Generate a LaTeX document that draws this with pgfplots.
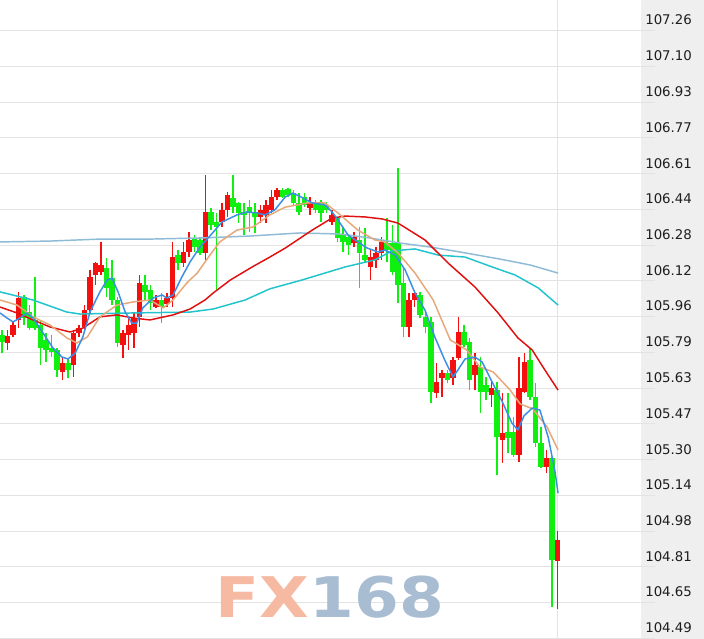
\documentclass[border=0pt]{standalone}
\usepackage{pgfplots}
\pgfplotsset{compat=1.18}
\usepackage{pgfplotstable}
\usepackage{fontspec}
\setmainfont{DejaVu Sans}
\definecolor{cred}{HTML}{F51010}
\definecolor{cgreen}{HTML}{10F010}
\definecolor{gridc}{HTML}{E3E3E3}
\definecolor{panel}{HTML}{EFEFEF}
\definecolor{labc}{HTML}{1E1E1E}
\definecolor{maA}{HTML}{3A8EE6}
\definecolor{maB}{HTML}{E6A878}
\definecolor{maC}{HTML}{E01010}
\definecolor{maD}{HTML}{20C4CC}
\definecolor{maE}{HTML}{8EBCD6}
\definecolor{wmfx}{HTML}{F6B9A2}
\definecolor{wmnum}{HTML}{A8BDD2}

\pgfplotstableread{
x o h l c
1 105.835 105.894 105.803 105.867
2 105.871 105.931 105.862 105.917
3 105.940 106.068 105.903 106.040
11 105.703 105.766 105.666 105.744
13 105.735 105.894 105.680 105.881
14 105.881 105.917 105.862 105.903
15 105.908 106.008 105.894 105.985
16 105.985 106.168 105.972 106.136
17 106.145 106.205 106.100 106.200
18 106.159 106.296 106.145 106.191
22 105.826 105.894 105.766 105.881
23 105.871 105.949 105.803 105.917
24 105.881 105.972 105.812 105.949
25 105.954 106.145 105.908 106.109
28 105.999 106.054 105.995 106.031
30 106.013 106.063 105.999 106.040
31 106.040 106.296 105.999 106.227
33 106.200 106.296 106.182 106.250
34 106.250 106.341 106.227 106.305
37 106.246 106.601 106.214 106.433
40 106.387 106.474 106.364 106.442
41 106.442 106.524 106.410 106.510
47 106.410 106.465 106.382 106.442
48 106.419 106.487 106.382 106.465
49 106.442 106.533 106.428 106.501
50 106.501 106.542 106.487 106.533
56 106.451 106.501 106.419 106.474
60 106.387 106.442 106.373 106.419
64 106.291 106.341 106.273 106.319
67 106.182 106.259 106.122 106.227
68 106.214 106.273 106.177 106.246
69 106.246 106.319 106.214 106.296
74 105.908 106.063 105.862 106.031
75 106.031 106.077 105.999 106.063
79 105.607 105.744 105.584 105.657
80 105.675 105.712 105.589 105.698
82 105.675 105.771 105.643 105.757
83 105.766 105.954 105.757 105.885
86 105.689 105.789 105.620 105.735
89 105.598 105.666 105.543 105.630
91 105.392 105.607 105.287 105.424
94 105.324 105.771 105.292 105.630
95 105.611 105.789 105.607 105.748
99 105.269 105.347 105.242 105.310
101 104.840 104.977 104.621 104.936
}\uptab

\pgfplotstableread{
x o h l c
0 105.871 105.894 105.789 105.839
4 106.045 106.054 105.917 105.949
5 105.976 106.008 105.894 105.903
6 105.940 106.136 105.894 105.903
7 105.917 105.940 105.735 105.812
8 105.849 105.881 105.748 105.803
9 105.812 105.871 105.771 105.794
10 105.803 105.812 105.680 105.712
12 105.744 105.766 105.675 105.712
19 106.177 106.223 106.045 106.086
20 106.131 106.214 106.008 106.031
21 106.031 106.045 105.817 105.835
26 106.100 106.145 106.031 106.068
27 106.077 106.100 105.985 106.017
29 106.031 106.063 105.926 105.999
32 106.236 106.259 106.168 106.200
35 106.314 106.328 106.250 106.273
36 106.305 106.319 106.236 106.246
38 106.433 106.451 106.350 106.373
39 106.387 106.428 106.077 106.364
42 106.497 106.601 106.428 106.455
43 106.474 106.478 106.382 106.428
44 106.433 106.474 106.328 106.419
45 106.455 106.487 106.341 106.428
46 106.433 106.474 106.337 106.410
51 106.533 106.542 106.497 106.501
52 106.538 106.542 106.501 106.510
53 106.519 106.533 106.465 106.474
54 106.474 106.519 106.419 106.433
55 106.501 106.519 106.455 106.465
57 106.474 106.487 106.428 106.442
58 106.474 106.487 106.387 106.428
59 106.465 106.478 106.428 106.442
61 106.405 106.410 106.296 106.314
62 106.328 106.364 106.250 106.296
63 106.319 106.328 106.236 106.282
65 106.305 106.364 106.086 106.246
66 106.236 106.360 106.205 106.214
70 106.291 106.405 106.205 106.259
71 106.291 106.373 106.145 106.159
72 106.291 106.633 106.017 106.100
73 106.109 106.182 105.862 105.908
76 106.054 106.068 105.949 105.963
77 105.954 105.985 105.881 105.908
78 105.931 105.954 105.561 105.611
81 105.698 105.712 105.652 105.666
84 105.885 105.917 105.817 105.826
85 105.839 105.858 105.620 105.666
87 105.725 105.771 105.515 105.611
88 105.643 105.680 105.575 105.611
90 105.620 105.657 105.233 105.406
92 105.429 105.607 105.333 105.401
93 105.429 105.497 105.315 105.324
96 105.757 105.812 105.575 105.589
97 105.589 105.652 105.360 105.379
98 105.379 105.452 105.265 105.269
100 105.310 105.315 104.630 104.845
}\dntab

\begin{document}
\begin{tikzpicture}
\useasboundingbox (0,0) rectangle (528pt,479.25pt);
\fill[white] (0,0) rectangle (528pt,479.25pt);
\fill[panel] (480.75pt,0) rectangle (528pt,479.25pt);
\begin{axis}[
  at={(0,0)}, anchor=south west,
  scale only axis, width=491.25pt, height=479.25pt,
  xmin=-0.3636, xmax=118.727, ymin=104.4842, ymax=107.400,
  axis line style={draw=none}, tick style={draw=none},
  xtick={101}, xticklabels={},
  ytick={107.260,107.097,106.934,106.771,106.607,106.444,106.281,106.118,105.955,105.792,105.629,105.466,105.302,105.139,104.976,104.813,104.650,104.487},
  yticklabels={107.26,107.10,106.93,106.77,106.61,106.44,106.28,106.12,105.96,105.79,105.63,105.47,105.30,105.14,104.98,104.81,104.65,104.49},
  yticklabel pos=right,
  yticklabel style={anchor=west, inner sep=0pt, xshift=-7.5pt, yshift=7.9pt, text=labc, font=\fontsize{10}{12}\selectfont},
  xmajorgrids, ymajorgrids,
  grid style={gridc, line width=0.75pt},
]
% wicks
\addplot[draw=none, forget plot, error bars/.cd, y dir=plus, y explicit, error mark=none,
  error bar style={draw=cred, line width=0.8pt}]
  table[x=x, y=l, y error plus expr=\thisrow{h}-\thisrow{l}] {\uptab};
\addplot[draw=none, forget plot, error bars/.cd, y dir=plus, y explicit, error mark=none,
  error bar style={draw=cgreen, line width=0.8pt}]
  table[x=x, y=l, y error plus expr=\thisrow{h}-\thisrow{l}] {\dntab};
% bodies
\addplot[draw=none, forget plot, error bars/.cd, y dir=plus, y explicit, error mark=none,
  error bar style={draw=cred, line width=3.9pt}]
  table[x=x, y=o, y error plus expr=\thisrow{c}-\thisrow{o}] {\uptab};
\addplot[draw=none, forget plot, error bars/.cd, y dir=plus, y explicit, error mark=none,
  error bar style={draw=cgreen, line width=3.9pt}]
  table[x=x, y=c, y error plus expr=\thisrow{o}-\thisrow{c}] {\dntab};
% moving averages
\addplot[maE, line width=1.1pt, line join=round] coordinates {(-0.36,106.296) (8.73,106.300) (17.8,106.309) (26.9,106.309) (36.0,106.314) (45.1,106.323) (54.2,106.337) (61.5,106.332) (66.9,106.314) (72.4,106.291) (77.8,106.273) (83.3,106.250) (90.5,106.218) (96.0,106.191) (101.1,106.154)};
\addplot[maD, line width=1.1pt, line join=round] coordinates {(-0.36,106.068) (5.64,106.031) (11.8,105.976) (14.2,105.967) (23.8,105.972) (34.2,105.976) (38.4,105.990) (44.2,106.031) (48.7,106.082) (54.5,106.122) (62.4,106.182) (67.8,106.214) (70.9,106.255) (75.1,106.264) (79.3,106.236) (84.2,106.227) (89.1,106.182) (93.3,106.145) (97.5,106.086) (101.1,106.008)};
\addplot[maC, line width=1.1pt, line join=round] coordinates {(-0.36,105.999) (2.73,105.972) (5.64,105.940) (8.73,105.908) (12.4,105.885) (14.7,105.903) (17.8,105.954) (20.9,105.963) (23.8,105.949) (26.9,105.940) (31.1,105.963) (34.2,105.990) (36.9,106.031) (38.4,106.063) (41.5,106.122) (45.5,106.182) (48.7,106.227) (51.5,106.268) (56.4,106.350) (60.0,106.405) (62.4,106.414) (66.0,106.410) (69.1,106.401) (72.0,106.382) (76.9,106.305) (81.1,106.200) (86.0,106.090) (90.2,105.972) (93.8,105.858) (96.4,105.803) (98.7,105.712) (101.1,105.620)};
\addplot[maB, line width=1.1pt, line join=round] coordinates {(-0.36,106.031) (2.73,106.008) (5.64,105.954) (8.73,105.917) (11.8,105.858) (13.6,105.835) (15.5,105.862) (17.8,105.954) (20.9,106.008) (23.8,106.022) (26.9,106.031) (29.3,105.995) (31.1,106.031) (33.6,106.109) (35.5,106.154) (37.8,106.236) (39.6,106.296) (42.7,106.350) (45.6,106.364) (48.7,106.419) (51.5,106.455) (55.6,106.474) (58.7,106.474) (61.1,106.428) (64.7,106.350) (67.8,106.305) (69.6,106.296) (72.0,106.246) (75.1,106.154) (78.4,106.031) (81.5,105.849) (84.5,105.803) (86.9,105.725) (89.3,105.703) (92.4,105.620) (94.2,105.557) (96.5,105.534) (99.1,105.452) (101.1,105.347)};
\addplot[maA, line width=1.1pt, line join=round] coordinates {(-0.36,105.972) (0.91,105.949) (2.0,105.931) (3.27,105.949) (4.55,105.972) (5.64,105.949) (7.45,105.881) (9.27,105.812) (10.9,105.771) (12.0,105.762) (13.3,105.789) (14.7,105.862) (16.0,105.976) (17.8,106.068) (19.1,106.122) (20.0,106.131) (21.1,106.068) (22.4,105.976) (23.6,105.926) (24.5,105.926) (25.6,105.995) (27.5,106.040) (29.1,106.054) (30.0,106.040) (31.1,106.054) (32.7,106.136) (34.2,106.205) (36.0,106.273) (37.8,106.323) (40.0,106.387) (42.7,106.419) (44.5,106.433) (46.4,106.428) (47.8,106.419) (49.6,106.442) (51.5,106.501) (52.9,106.519) (54.7,106.497) (56.4,106.474) (58.7,106.465) (60.0,106.433) (61.1,106.396) (62.9,106.328) (64.7,106.296) (66.4,106.268) (68.4,106.250) (69.6,106.259) (71.5,106.236) (73.3,106.168) (75.1,106.063) (76.9,105.985) (78.7,105.862) (80.5,105.757) (82.0,105.680) (82.9,105.712) (84.2,105.762) (86.0,105.771) (87.3,105.748) (89.1,105.657) (90.9,105.570) (92.7,105.470) (93.8,105.438) (94.9,105.502) (96.4,105.538) (97.8,105.529) (99.3,105.406) (100.5,105.255) (101.1,105.150)};
\end{axis}
\node[font=\bfseries\fontsize{42}{42}\selectfont, xscale=1.15, inner sep=0pt] at (247.5pt,31.5pt) {\textcolor{wmfx}{FX}\textcolor{wmnum}{168}};
\end{tikzpicture}
\end{document}
